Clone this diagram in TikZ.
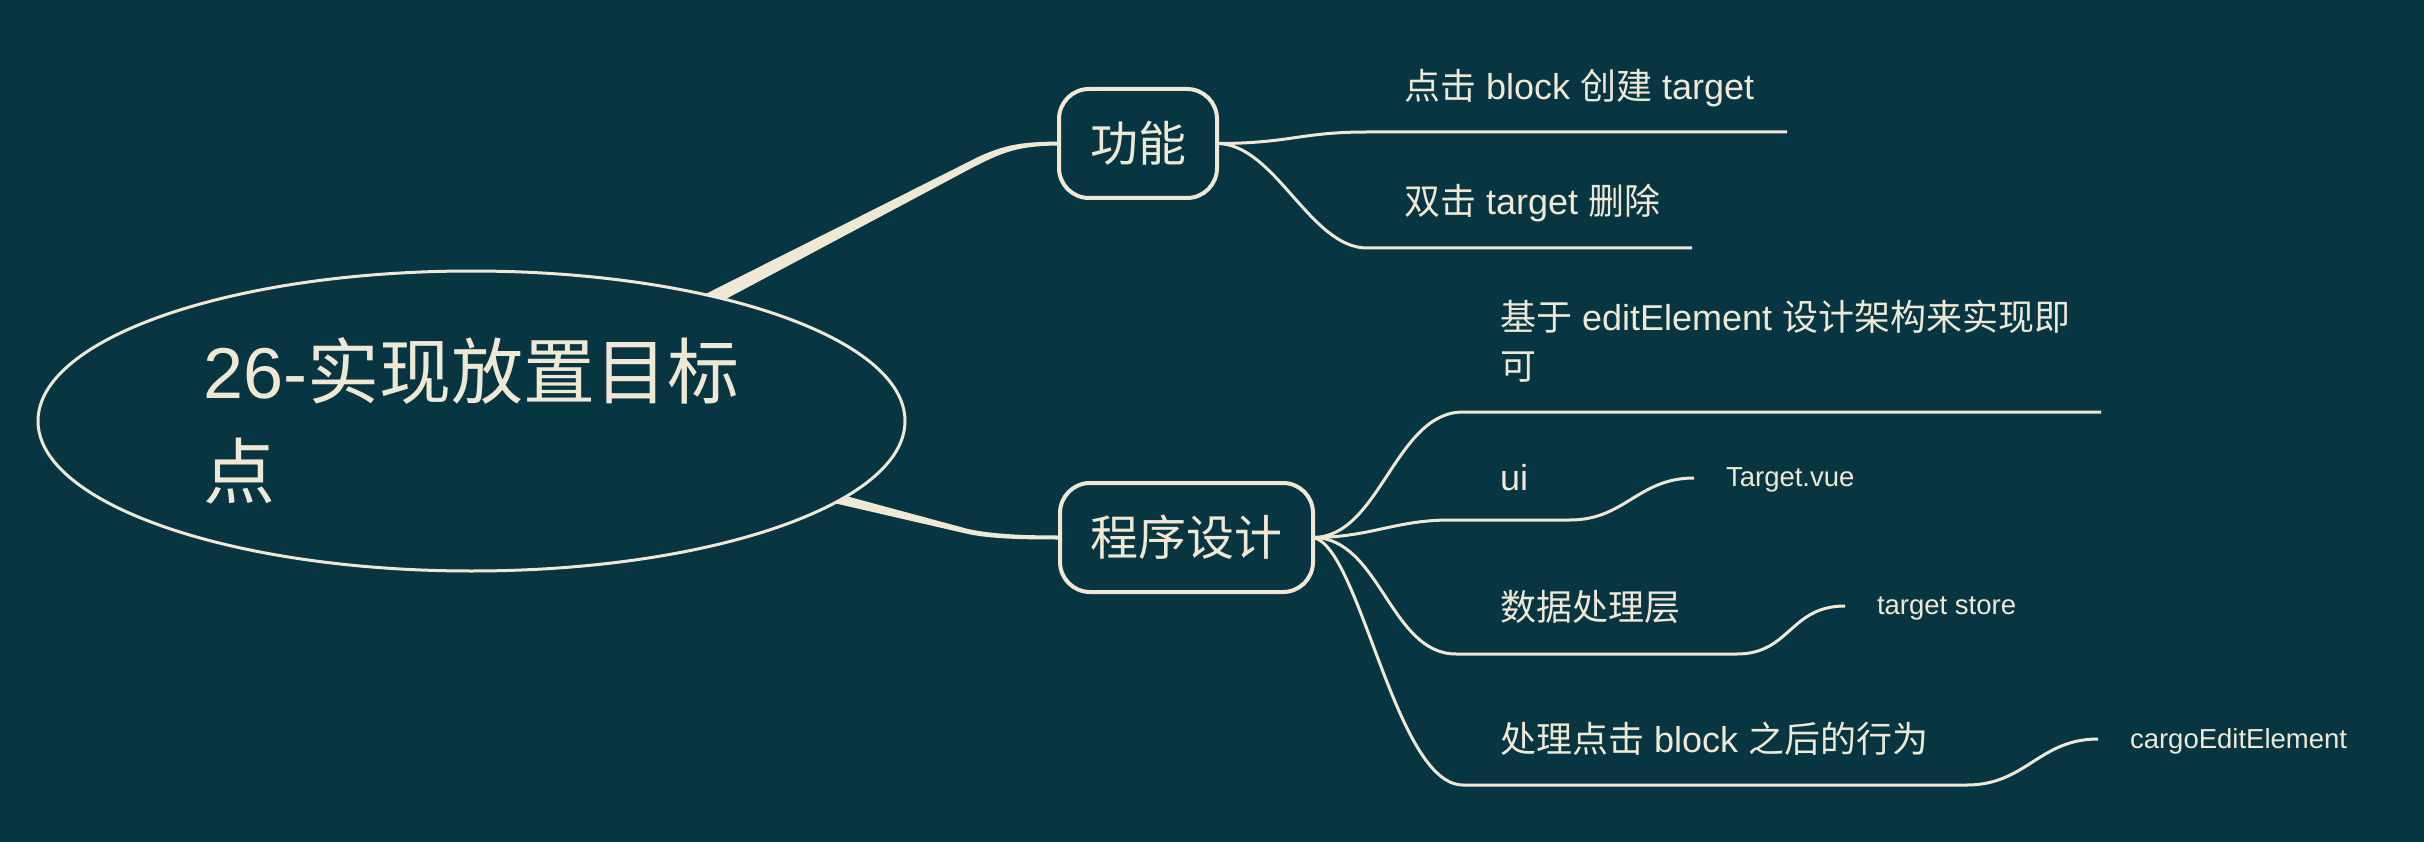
\documentclass[tikz,border=0pt]{standalone}
\usepackage{fontspec}
\setmainfont{Liberation Sans}
\newfontfamily\cjk{Noto Sans CJK SC}
\usetikzlibrary{shapes.geometric,calc,backgrounds}
\definecolor{bgc}{HTML}{073642}
\definecolor{ink}{HTML}{EEE8D5}

\begin{document}
\begin{tikzpicture}[x=1pt,y=-1pt,
  topicbox/.style={draw=ink, line width=4pt, rounded corners=30pt, fill=bgc,
    text=ink, font=\fontsize{48}{58}\selectfont\cjk, outer sep=0pt, inner sep=0pt},
  leaftext/.style={anchor=base west, text=ink, inner sep=0pt, outer sep=0pt,
    align=left, font=\fontsize{36}{49}\selectfont},
  subtext/.style={anchor=base west, text=ink, inner sep=0pt, outer sep=0pt,
    font=\fontsize{27.5}{33}\selectfont},
  wire/.style={draw=ink, line width=3pt},
  taper/.style={fill=ink}]

% central topic
\node[ellipse, draw=ink, line width=3pt, fill=bgc, minimum width=867pt,
  minimum height=300pt, inner sep=0pt, outer sep=0pt, text=ink, align=left,
  font=\fontsize{72}{100}\selectfont] (root) at (471.5,421)
  {26-{\cjk 实现放置目标}\\{\cjk 点}};

% main topics
\node[topicbox, minimum width=158pt, minimum height=109pt] (func) at (1138,143.5) {功能};
\node[topicbox, minimum width=253pt, minimum height=109pt] (prog) at (1186.5,537.5) {程序设计};

% tapered main branches, under the central topic
\begin{scope}[on background layer]
  \fill[bgc] (0,0) rectangle (2424,842);
  \fill[taper] ($(root.27)+(-12.1,-1.6)$) -- ($(func.west)+(-92.6,19.4)$)
    .. controls ($(func.west)+(-57.2,0.8)$) and ($(func.west)+(-39,-1.5)$) .. ($(func.west)+(0,-2)$)
    -- ($(func.west)+(0,2)$)
    .. controls ($(func.west)+(-39,2.5)$) and ($(func.west)+(-54,7)$) .. ($(func.west)+(-89.4,25.6)$)
    -- ($(root.27)+(-5.6,10.8)$) -- cycle;
  \fill[taper] ($(root.-12)+(-6.7,-6.7)$) -- ($(prog.west)+(-93.4,-8.9)$)
    .. controls ($(prog.west)+(-69.1,-3.2)$) and ($(prog.west)+(-35,-2)$) .. ($(prog.west)+(0,-2)$)
    -- ($(prog.west)+(0,2)$)
    .. controls ($(prog.west)+(-35,2)$) and ($(prog.west)+(-70.3,1.6)$) .. ($(prog.west)+(-94.6,-4.1)$)
    -- ($(root.-12)+(-8.9,3.1)$) -- cycle;
\end{scope}

% underline ends of the subtopics
\coordinate (u11a) at (1367,132);  \coordinate (u11b) at (1787,132);
\coordinate (u12a) at (1367,248);  \coordinate (u12b) at (1692,248);
\coordinate (u21a) at (1463,412);  \coordinate (u21b) at (2101,412);
\coordinate (u22a) at (1450,520);  \coordinate (u22b) at (1570,520);
\coordinate (u23a) at (1456,654);  \coordinate (u23b) at (1737,654);
\coordinate (u24a) at (1463,785);  \coordinate (u24b) at (1967,785);
\coordinate (t22) at (1694,478);
\coordinate (t23) at (1845,606);
\coordinate (t24) at (2098,739);

% branches of 功能
\draw[wire] (func.east) .. controls +(73,0) and +(-67,0) .. (u11a) -- (u11b);
\draw[wire] (func.east) .. controls +(58,0) and +(-57,0) .. (u12a) -- (u12b);

% branches of 程序设计
\draw[wire] (prog.east) .. controls +(67,0) and +(-68,0) .. (u21a) -- (u21b);
\draw[wire] (prog.east) .. controls +(57,0) and +(-55,0) .. (u22a) -- (u22b);
\draw[wire] (prog.east) .. controls +(67,0) and +(-66,0) .. (u23a) -- (u23b);
\draw[wire] (prog.east) .. controls +(47,8) and +(-68,0) .. (u24a) -- (u24b);
\draw[wire] (u22b) .. controls +(55,0) and +(-56,0) .. (t22);
\draw[wire] (u23b) .. controls +(53,0) and +(-55,0) .. (t23);
\draw[wire] (u24b) .. controls +(59,0) and +(-59,0) .. (t24);

% subtopic texts (a two-line node is placed by its last baseline)
\node[leaftext] (l11) at (1404,100) {{\cjk 点击} block {\cjk 创建} target};
\node[leaftext] (l12) at (1404,214.5) {{\cjk 双击} target {\cjk 删除}};
\node[leaftext] (l21) at (1500,379) {{\cjk 基于} editElement {\cjk 设计架构来实现即}\\{\cjk 可}};
\node[leaftext] (l22) at (1500,490) {ui};
\node[leaftext] (l23) at (1500,620) {{\cjk 数据处理层}};
\node[leaftext] (l24) at (1500,752) {{\cjk 处理点击} block {\cjk 之后的行为}};
\node[subtext] (s22) at (1726,486) {Target.vue};
\node[subtext] (s23) at (1877,614) {target store};
\node[subtext] (s24) at (2130,748) {cargoEditElement};
\end{tikzpicture}
\end{document}
